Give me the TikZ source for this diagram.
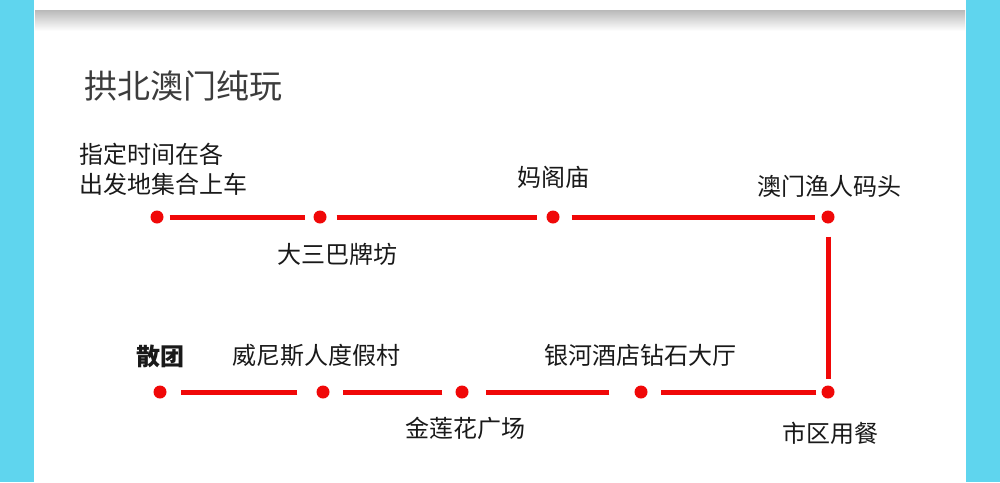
\documentclass[tikz,border=0pt]{standalone}
\usepackage{fontspec}
\newfontfamily\cjk{Noto Sans CJK SC}
\usetikzlibrary{calc}
\definecolor{sidecyan}{RGB}{95,213,238}
\definecolor{routered}{RGB}{240,8,8}
\definecolor{titlegray}{RGB}{60,60,60}
\definecolor{labelblack}{RGB}{25,25,25}
\tikzset{
  stop/.style={circle,fill=routered,inner sep=0pt,minimum size=13pt},
  route/.style={draw=routered,line width=5pt},
  lbl/.style={inner sep=0pt,anchor=west,text=labelblack,font=\cjk\fontsize{24}{30}\selectfont},
  ttl/.style={inner sep=0pt,anchor=west,text=titlegray,font=\cjk\fontsize{33}{40}\selectfont}
}
\begin{document}
\begin{tikzpicture}[x=1pt,y=-1pt]
\useasboundingbox (0,0) rectangle (1000,482);
\fill[white] (0,0) rectangle (1000,482);
\fill[sidecyan] (0,0) rectangle (34,482);
\fill[sidecyan] (966,0) rectangle (1000,482);
\shade[top color=gray!55,bottom color=white] (35,10) rectangle (965,31);
\node[ttl] (title) at (84,86) {拱北澳门纯玩};
% stops
\node[stop] (s1) at (157,217) {};
\node[stop] (s2) at (320,217) {};
\node[stop] (s3) at (553,217) {};
\node[stop] (s4) at (828,217) {};
\node[stop] (s5) at (828,392) {};
\node[stop] (s6) at (641,392) {};
\node[stop] (s7) at (462,392) {};
\node[stop] (s8) at (323,392) {};
\node[stop] (s9) at (160,392) {};
% route segments
\draw[route,shorten <=6pt,shorten >=8pt] (s1) -- (s2);
\draw[route,shorten <=10pt,shorten >=9pt] (s2) -- (s3);
\draw[route,shorten <=12pt,shorten >=6pt] (s3) -- (s4);
\draw[route,shorten <=13pt,shorten >=6pt] (s4) -- (s5);
\draw[route,shorten <=5pt,shorten >=13pt] (s5) -- (s6);
\draw[route,shorten <=25pt,shorten >=17pt] (s6) -- (s7);
\draw[route,shorten <=13pt,shorten >=13pt] (s7) -- (s8);
\draw[route,shorten <=19pt,shorten >=14pt] (s8) -- (s9);
% labels
\node[lbl,align=left] (l1) at (79,169) {指定时间在各\\出发地集合上车};
\node[lbl] (l2) at (277,254) {大三巴牌坊};
\node[lbl] (l3) at (517,177) {妈阁庙};
\node[lbl] (l4) at (757,186) {澳门渔人码头};
\node[lbl] (l5) at (782,433) {市区用餐};
\node[lbl] (l6) at (544,355) {银河酒店钻石大厅};
\node[lbl] (l7) at (405,428) {金莲花广场};
\node[lbl] (l8) at (232,355) {威尼斯人度假村};
\node[lbl,font=\cjk\bfseries\fontsize{24}{30}\selectfont] (l9) at (136,356) {散团};
\end{tikzpicture}
\end{document}
